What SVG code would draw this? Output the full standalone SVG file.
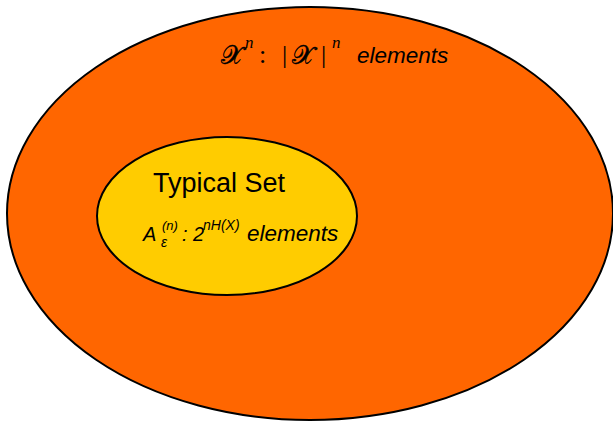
<svg xmlns="http://www.w3.org/2000/svg" width="613" height="423" viewBox="0 0 613 423">
<style>
.ell{stroke:#000;stroke-width:2}
.sans{font-family:"Liberation Sans",Arial,sans-serif;fill:#000}
.serif{font-family:"Liberation Serif","DejaVu Serif",serif;fill:#000}
.it{font-style:italic}
.cal{font-size:26px;stroke:#000;stroke-width:0.4}
</style>
<g id="universe">
<ellipse class="ell" cx="310" cy="213.5" rx="303" ry="206.5" fill="#FF6600"/>
<text class="serif cal" x="221" y="64">𝒳</text>
<text class="serif it" x="245" y="48" font-size="17">n</text>
<text class="serif" x="259" y="63" font-size="26">:</text>
<text class="serif" x="282" y="63" font-size="26">|</text>
<text class="serif cal" x="292" y="64">𝒳</text>
<text class="serif" x="321" y="63" font-size="26">|</text>
<text class="serif it" x="332" y="48" font-size="17">n</text>
<text class="sans it" x="357" y="63" font-size="22.5">elements</text>
</g>
<g id="typical-set">
<ellipse class="ell" cx="227" cy="216" rx="130" ry="79" fill="#FFCC00"/>
<text class="sans" x="153" y="192" font-size="27">Typical Set</text>
<text class="sans it" x="143" y="241" font-size="20">A</text>
<text class="sans it" x="162" y="230" font-size="13">(n)</text>
<text class="sans it" x="161" y="247" font-size="14">ε</text>
<text class="sans it" x="182" y="241" font-size="20">: 2</text>
<text class="sans it" x="203" y="230" font-size="14">nH(X)</text>
<text class="sans it" x="247" y="241" font-size="22.5">elements</text>
</g>
<g id="connectors"></g>
</svg>
